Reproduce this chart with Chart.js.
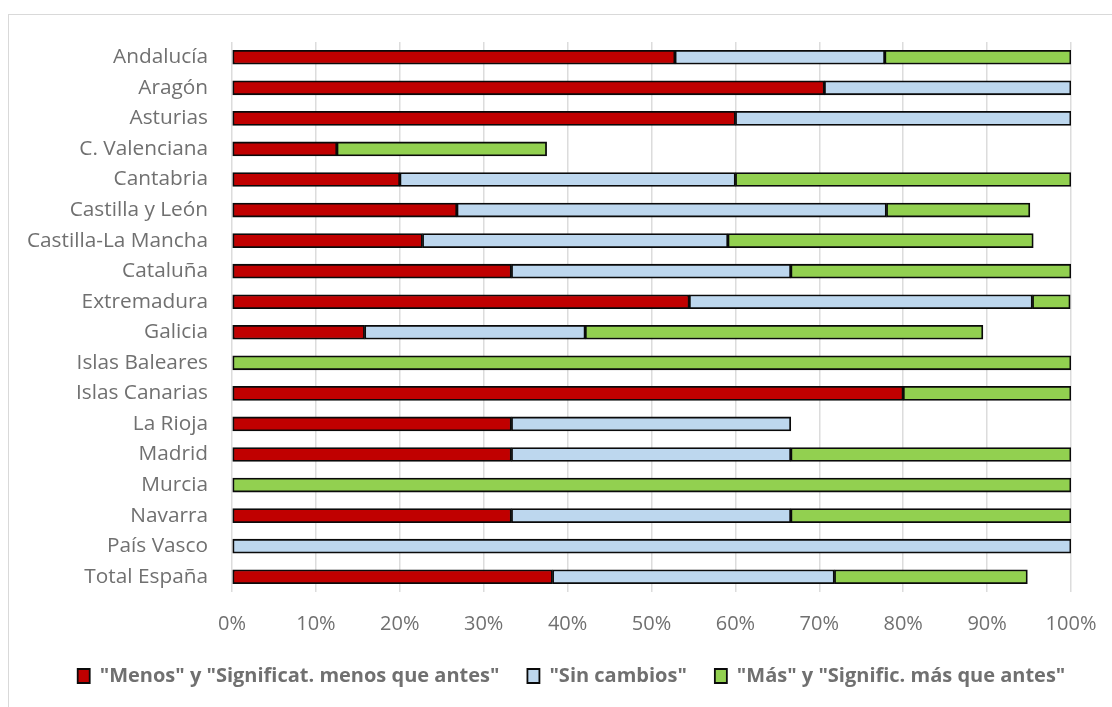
<!DOCTYPE html>
<html>
<head>
<meta charset="utf-8">
<script src="https://cdn.jsdelivr.net/npm/chart.js@4/dist/chart.umd.min.js"></script>
<style>
  html, body { margin: 0; padding: 0; background: #ffffff; }
  canvas { display: block; }
</style>
</head>
<body>
<canvas id="chart" width="1112" height="707"></canvas>
<script>
// Regions (top to bottom) and share of answers per group, in %
const categories = [
  'Andalucía', 'Aragón', 'Asturias', 'C. Valenciana', 'Cantabria',
  'Castilla y León', 'Castilla-La Mancha', 'Cataluña', 'Extremadura',
  'Galicia', 'Islas Baleares', 'Islas Canarias', 'La Rioja', 'Madrid',
  'Murcia', 'Navarra', 'País Vasco', 'Total España'
];
const menos      = [52.8, 70.6, 60.0, 12.5, 20.0, 26.8, 22.7, 33.3, 54.5, 15.8, null, 80.0, 33.3, 33.3, null, 33.3, null, 38.2];
const sinCambios = [25.0, 29.4, 40.0, null, 40.0, 51.2, 36.4, 33.3, 40.9, 26.3, null, null, 33.3, 33.3, null, 33.3, 100.0, 33.6];
const mas        = [22.2, null, null, 25.0, 40.0, 17.1, 36.4, 33.4, 4.5, 47.4, 100.0, 20.0, null, 33.4, 100.0, 33.4, null, 23.0];

const seriesNames = [
  '"Menos" y "Significat. menos que antes"',
  '"Sin cambios"',
  '"Más" y "Signific. más que antes"'
];
const xTicks = [0, 10, 20, 30, 40, 50, 60, 70, 80, 90, 100];

const textColor = '#707070';
const gridColor = '#dcdcdc';
const fontFamily = '"Open Sans", "Noto Sans", sans-serif';

// white background and the thin frame round the chart
const framePlugin = {
  id: 'frame',
  beforeDraw(chart) {
    const ctx = chart.ctx;
    ctx.save();
    ctx.fillStyle = '#ffffff';
    ctx.fillRect(0, 0, chart.width, chart.height);
    ctx.strokeStyle = '#d9d9d9';
    ctx.lineWidth = 1;
    ctx.strokeRect(8.5, 14.5, chart.width + 20, chart.height + 20);
    ctx.restore();
  }
};

// centre the legend row under the plot area rather than the whole canvas
const legendShiftPlugin = {
  id: 'legendShift',
  afterLayout(chart) {
    const lg = chart.legend;
    if (lg) { lg.left += 36; lg.right += 36; }
  }
};

function barSet(label, data, color) {
  return {
    label: label,
    data: data,
    backgroundColor: color,
    borderColor: '#0a0a0a',
    borderWidth: 1.8,
    borderSkipped: false,
    barThickness: 14,
    stack: 'total'
  };
}

new Chart(document.getElementById('chart'), {
  type: 'bar',
  data: {
    labels: categories,
    datasets: [
      barSet(seriesNames[0], menos, '#C00000'),
      barSet(seriesNames[1], sinCambios, '#BDD7EE'),
      barSet(seriesNames[2], mas, '#92D050')
    ]
  },
  plugins: [framePlugin, legendShiftPlugin],
  options: {
    indexAxis: 'y',
    responsive: false,
    devicePixelRatio: 1,
    animation: false,
    layout: { padding: { top: 42, right: 41, bottom: 11, left: 0 } },
    scales: {
      x: {
        stacked: true,
        min: 0,
        max: 100,
        afterBuildTicks(scale) {
          scale.ticks = xTicks.map(v => ({ value: v }));
        },
        ticks: {
          color: textColor,
          font: { family: fontFamily, size: 20 },
          padding: 20,
          maxRotation: 0,
          callback: v => v + '%'
        },
        grid: { color: gridColor, lineWidth: 1.5, drawTicks: false },
        border: { display: false },
        afterFit(scale) {
          scale.height = 46;
          // the layout padding already leaves room for the end labels
          scale.paddingLeft = 0;
          scale.paddingRight = 0;
        }
      },
      y: {
        stacked: true,
        grid: { display: false, drawTicks: false },
        border: { display: false },
        ticks: {
          color: textColor,
          font: { family: fontFamily, size: 20.8 },
          padding: 24,
          autoSkip: false
        },
        afterFit(scale) { scale.width = 232; }
      }
    },
    plugins: {
      legend: {
        position: 'bottom',
        labels: {
          color: textColor,
          font: { family: fontFamily, size: 20, weight: 'bold' },
          boxWidth: 12,
          boxHeight: 14,
          padding: 28
        }
      },
      tooltip: { enabled: false }
    }
  }
});
</script>
</body>
</html>
